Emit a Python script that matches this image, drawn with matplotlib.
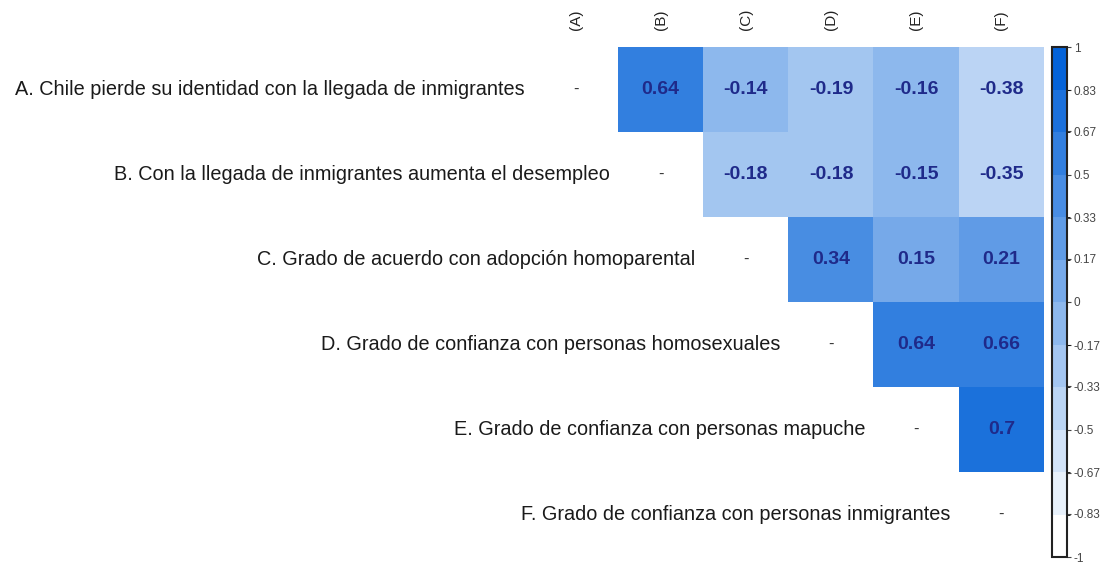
import numpy as np
import matplotlib
matplotlib.use("Agg")
import matplotlib.pyplot as plt
from matplotlib.colors import LinearSegmentedColormap, BoundaryNorm

plt.rcParams['font.family'] = ['Liberation Sans', 'DejaVu Sans']

# etiquetas de filas y columnas
row_labels = [
    "A. Chile pierde su identidad con la llegada de inmigrantes",
    "B. Con la llegada de inmigrantes aumenta el desempleo",
    "C. Grado de acuerdo con adopción homoparental",
    "D. Grado de confianza con personas homosexuales",
    "E. Grado de confianza con personas mapuche",
    "F. Grado de confianza con personas inmigrantes",
]
col_labels = ["(A)", "(B)", "(C)", "(D)", "(E)", "(F)"]

# correlaciones (triángulo superior, fila por fila)
row_a = [0.64, -0.14, -0.19, -0.16, -0.38]
row_b = [-0.18, -0.18, -0.15, -0.35]
row_c = [0.34, 0.15, 0.21]
row_d = [0.64, 0.66]
row_e = [0.70]
upper_rows = [row_a, row_b, row_c, row_d, row_e]

cbar_ticks = [-1, -0.83, -0.67, -0.5, -0.33, -0.17, 0, 0.17, 0.33, 0.5, 0.67, 0.83, 1]

n = len(row_labels)
mat = np.full((n, n), np.nan)
for i, vals in enumerate(upper_rows):
    mat[i, i + 1:] = vals

cmap_base = LinearSegmentedColormap.from_list("wb", ["#ffffff", "#0563d8"])
bounds = np.linspace(-1, 1, 13)
colors = [cmap_base(k / 11) for k in range(12)]
cmap = matplotlib.colors.ListedColormap(colors)
norm = BoundaryNorm(bounds, cmap.N)

fig = plt.figure(figsize=(11.03, 5.63), dpi=100)
W, H = 1103, 563
ax = fig.add_axes([533 / W, 1 - 557 / H, 511 / W, 510 / H])
ax.imshow(np.ma.masked_invalid(mat), cmap=cmap, norm=norm,
          extent=(-0.5, n - 0.5, n - 0.5, -0.5), aspect='auto',
          interpolation='nearest')
ax.set_xlim(-0.5, n - 0.5)
ax.set_ylim(n - 0.5, -0.5)
ax.axis('off')

txt_col = '#1f2a8a'
for i in range(n):
    ax.text(i, i, "-", ha='center', va='center', fontsize=12, color='#333333')
    ax.text(i - 0.6, i, row_labels[i], ha='right', va='center', fontsize=14.3,
            color='#1a1a1a', clip_on=False)
    for j in range(i + 1, n):
        ax.text(j, i, f"{mat[i, j]:g}", ha='center', va='center',
                fontsize=14, fontweight='bold', color=txt_col)

for j, lab in enumerate(col_labels):
    ax.text(j, -0.7, lab, rotation=90, ha='center', va='bottom',
            fontsize=11, color='#222222', clip_on=False)

# barra de colores
cax = fig.add_axes([1052 / W, 1 - 557 / H, 15 / W, 510 / H])
sm = matplotlib.cm.ScalarMappable(cmap=cmap, norm=norm)
cb = fig.colorbar(sm, cax=cax, boundaries=bounds, ticks=cbar_ticks)
cb.ax.set_yticklabels([f"{t:g}" for t in cbar_ticks])
cb.ax.tick_params(labelsize=8.5, length=3, width=0.8, colors='#444444', pad=2)
cb.outline.set_linewidth(1.5)
cb.outline.set_edgecolor('#222222')

fig.savefig("out.png", dpi=100)
